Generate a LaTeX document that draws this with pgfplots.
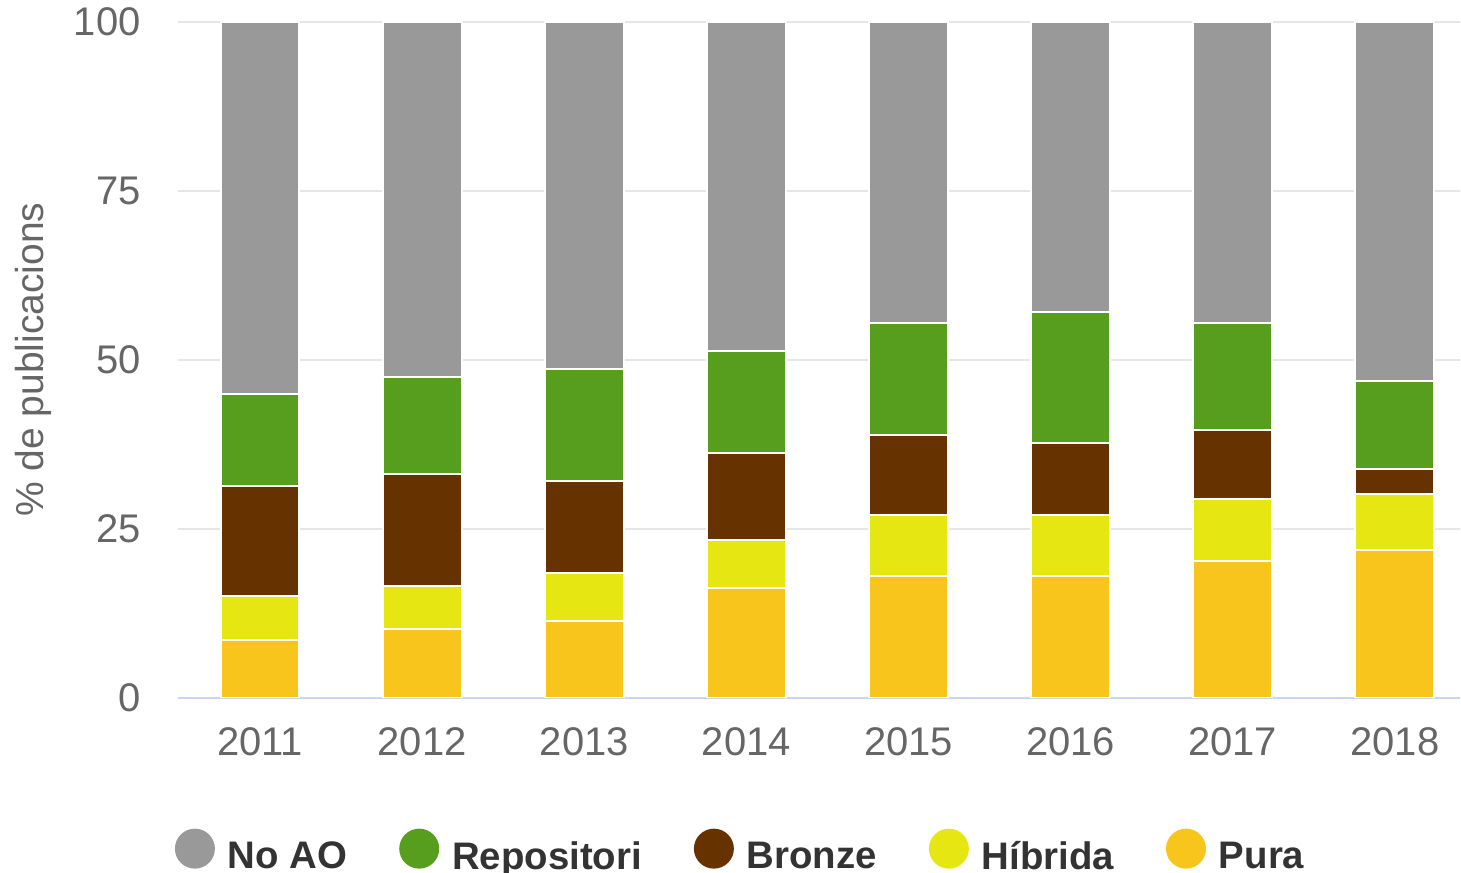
\documentclass[border=0pt]{standalone}
\usepackage{pgfplots}
\pgfplotsset{compat=1.18}
\usepackage{fontspec}
\setmainfont{Liberation Sans}
\usetikzlibrary{calc}
\definecolor{noao}{HTML}{999999}
\definecolor{repo}{HTML}{589E1E}
\definecolor{bronze}{HTML}{663300}
\definecolor{hibrida}{HTML}{E6E612}
\definecolor{pura}{HTML}{F7C51B}
\definecolor{gridc}{HTML}{E6E6E6}
\definecolor{axisc}{HTML}{CCD6EB}
\definecolor{c666}{HTML}{666666}
\definecolor{c333}{HTML}{333333}
\pgfplotsset{
  mybar/.style={fill=#1, draw=white, line width=1pt,
    legend image code/.code={\fill[#1, draw=none] (10pt,4pt) circle (10pt);}},
}
\begin{document}
\begin{tikzpicture}
\begin{axis}[name=ax, scale only axis, width=641.5pt, height=338.3pt,
  ybar stacked, bar width=39.5pt,
  xmin=-0.5067, xmax=7.402, ymin=0, ymax=100,
  xtick={0,1,2,3,4,5,6,7},
  xticklabels={2011,2012,2013,2014,2015,2016,2017,2018},
  ytick={0,25,50,75,100},
  ymajorgrids, grid style={draw=gridc, line width=1pt},
  axis x line*=bottom, axis y line*=left,
  x axis line style={draw=axisc, line width=1pt, -},
  y axis line style={draw=none},
  major tick length=0pt,
  ticklabel style={font=\fontsize{20}{24}\selectfont, text=c666},
  /pgf/number format/assume math mode=true,
  yticklabel style={anchor=east, inner sep=0pt, xshift=-18.5pt},
  xticklabel style={anchor=north, inner sep=0pt, yshift=-14.7pt},
  ylabel={\% de publicacions},
  every axis y label/.style={at={(axis description cs:-0.1123,0.5)}, rotate=90, anchor=center,
    font=\fontsize{19.5}{24}\selectfont, text=c666},
  reverse legend,
  legend style={at={(axis description cs:-0.0023,-0.2257)}, anchor=west,
    draw=none, fill=none, inner sep=0pt, outer sep=0pt,
    font=\bfseries\fontsize{19.2}{23}\selectfont, text=c333,
    legend columns=5,
    nodes={inner sep=0pt},
    /tikz/every odd column/.append style={column sep=6.5pt},
    /tikz/every even column/.append style={column sep=26pt}},
]
\addplot[mybar=pura] coordinates {(0,8.6) (1,10.2) (2,11.3) (3,16.2) (4,18.0) (5,18.0) (6,20.3) (7,21.8)};
\addlegendentry{Pura}
\addplot[mybar=hibrida] coordinates {(0,6.5) (1,6.4) (2,7.2) (3,7.2) (4,9.1) (5,9.1) (6,9.1) (7,8.4)};
\addlegendentry{Híbrida}
\addplot[mybar=bronze] coordinates {(0,16.2) (1,16.5) (2,13.6) (3,12.8) (4,11.7) (5,10.6) (6,10.2) (7,3.7)};
\addlegendentry{Bronze}
\addplot[mybar=repo] coordinates {(0,13.7) (1,14.4) (2,16.6) (3,15.1) (4,16.6) (5,19.3) (6,15.8) (7,12.9)};
\addlegendentry{Repositori}
\addplot[mybar=noao] coordinates {(0,55.0) (1,52.5) (2,51.3) (3,48.7) (4,44.6) (5,43.0) (6,44.6) (7,53.2)};
\addlegendentry{No AO}
\end{axis}
\path[use as bounding box] ($(ax.south west)+(-89pt,-86.85pt)$) rectangle ($(ax.north east)+(0pt,10.85pt)$);
\end{tikzpicture}
\end{document}
